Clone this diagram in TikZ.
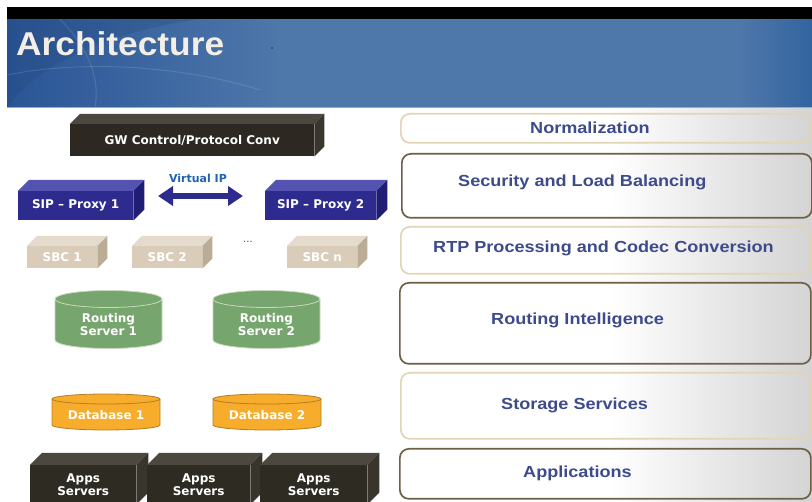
\documentclass[tikz,border=0pt]{standalone}
\usepackage{fontspec}
\setmainfont{DejaVu Sans}
\newfontfamily\lblfont{DejaVu Sans}
\newfontfamily\arialb{Liberation Sans}[FakeStretch=1.13]
\newfontfamily\titlefont{Liberation Sans}[FakeStretch=1.07]
\usetikzlibrary{arrows.meta}
\definecolor{gwF}{HTML}{2D2922}\definecolor{gwT}{HTML}{4C4840}\definecolor{gwS}{HTML}{3A362E}
\definecolor{sipF}{HTML}{2E2B8E}\definecolor{sipT}{HTML}{5553B2}\definecolor{sipS}{HTML}{201D74}
\definecolor{sbcF}{HTML}{D9CDB9}\definecolor{sbcT}{HTML}{E5DBCC}\definecolor{sbcS}{HTML}{BAAC95}
\definecolor{appF}{HTML}{2E2B23}\definecolor{appT}{HTML}{4C4840}\definecolor{appS}{HTML}{39352D}
\definecolor{rsF}{HTML}{76A56D}\definecolor{rsE}{HTML}{CBD9BE}
\definecolor{dbF}{HTML}{F7AC2B}\definecolor{dbE}{HTML}{B47E22}
\definecolor{lblblue}{HTML}{3D4B8B}
\definecolor{vipblue}{HTML}{1F63B5}
\definecolor{beigeline}{HTML}{E2D5B6}
\definecolor{dkbrown}{HTML}{6E5F47}
\definecolor{barblue}{HTML}{4E77AA}
\definecolor{bardark}{HTML}{2A5596}
\definecolor{barright}{HTML}{33649F}
\definecolor{titlecol}{HTML}{F3EEE6}
% cuboid: name, x1, y1, x2, y2, depth, colour prefix, text
\newcommand\cubx[8]{%
  \node[cubelbl, fill=#7F, minimum width={#4-#2}, minimum height={#5-#3}, anchor=north west] (#1) at (#2,#3) {#8};
  \fill[#7T] (#1.north west) -- ++(#6,-#6) -- ([shift={(#6,-#6)}]#1.north east) -- (#1.north east) -- cycle;
  \fill[#7S] (#1.north east) -- ++(#6,-#6) -- ([shift={(#6,-#6)}]#1.south east) -- (#1.south east) -- cycle;
}
% cylinder: name, x1, x2, ytop, ybot, ry(pt), colour prefix, text
\newcommand\cyl[8]{%
  \pgfmathsetmacro\cylR{(#3-#2)/2}
  \path[fill=#7F, draw=#7E, line width=0.8pt] (#2,#4) -- (#2,#5)
     arc[start angle=180, end angle=360, x radius=\cylR pt, y radius=#6pt] -- (#3,#4)
     arc[start angle=0, end angle=180, x radius=\cylR pt, y radius=#6pt] -- cycle;
  \draw[#7E, line width=0.8pt] (#2,#4) arc[start angle=180, end angle=360, x radius=\cylR pt, y radius=#6pt];
  \node[cubelbl] (#1) at ({(#2+#3)/2},{(#4+#5)/2+#6/2+1}) {#8};
}
\begin{document}
\begin{tikzpicture}[x=1pt,y=-1pt,
  cubelbl/.style={inner sep=0pt, text=white, font=\lblfont\bfseries\fontsize{12}{13.5}\selectfont, align=center},
  rbox/.style={rounded corners=9pt, line width=1.7pt, anchor=north west, inner sep=0pt},
  lightbox/.style={rbox, draw=beigeline},
  darkbox/.style={rbox, draw=dkbrown},
  rlbl/.style={anchor=base west, inner sep=0pt, text=lblblue, font=\arialb\bfseries\fontsize{16}{18}\selectfont}]
\useasboundingbox (0,0) rectangle (812,502);
\fill[white] (0,0) rectangle (812,502);
% right panel background gradient
\shade[left color=white, right color=black!17] (610,108) rectangle (812,502);
% title bar
\fill[barblue] (7,19) rectangle (812,108);
\shade[left color=bardark, right color=barblue] (7,19) rectangle (280,108);
\shade[left color=barblue, right color=barright] (740,19) rectangle (812,108);
\fill[bardark!80!black, opacity=0.25] (7,108) .. controls (40,60) and (120,30) .. (200,19) -- (7,19) -- cycle;
\draw[white, opacity=0.12, line width=1pt] (7,75) .. controls (80,60) and (180,65) .. (260,90);
\draw[white, opacity=0.12, line width=1pt] (60,19) .. controls (90,50) and (100,80) .. (95,108);
\draw[barblue!60!white, line width=1pt] (7,108) -- (812,108);
\fill[black] (7,7) rectangle (812,19);
\node[anchor=base west, inner sep=0pt, text=titlecol, font=\titlefont\bfseries\fontsize{33}{36}\selectfont] (title) at (16,56) {Architecture};
\fill[bardark!60!black] (272,48) circle[radius=0.8pt];
% left column
\cubx{gw}{70}{124}{314}{156}{10}{gw}{GW Control/Protocol Conv}
\cubx{sipa}{18}{191}{133}{220}{11}{sip}{SIP – Proxy 1}
\cubx{sipb}{265}{191}{376}{220}{11}{sip}{SIP – Proxy 2}
\node[inner sep=0pt, text=vipblue, font=\lblfont\bfseries\fontsize{11}{12}\selectfont] (vip) at (198,178) {Virtual IP};
\coordinate (va) at (158,196);
\coordinate (vb) at (243,196);
\draw[sipF, line width=6pt, {Triangle[length=15pt,width=19pt]}-{Triangle[length=15pt,width=19pt]}] (va) -- (vb);
\cubx{sbca}{27}{246}{97}{268}{10}{sbc}{SBC 1}
\cubx{sbcb}{132}{246}{202}{268}{10}{sbc}{SBC 2}
\cubx{sbcn}{287}{246}{357}{268}{10}{sbc}{SBC n}
\node[inner sep=0pt, text=lblblue, font=\lblfont\fontsize{10}{12}\selectfont] (dots) at (248,242) {...};
\cyl{rsa}{55}{162}{299}{340}{8.5}{rs}{Routing\\Server 1}
\cyl{rsb}{213}{320}{299}{340}{8.5}{rs}{Routing\\Server 2}
\cyl{dba}{52}{160}{399}{425}{5}{db}{Database 1}
\cyl{dbb}{213}{321}{399}{425}{5}{db}{Database 2}
\cubx{appa}{30}{465}{136}{504}{12}{app}{Apps\\Servers}
\cubx{appb}{147}{465}{250}{504}{12}{app}{Apps\\Servers}
\cubx{appc}{260}{465}{367}{504}{12}{app}{Apps\\Servers}
% right column
\node[lightbox, minimum width=410pt, minimum height=29pt] (normbox) at (400,113) {};
\node[darkbox, minimum width=410pt, minimum height=64pt] (secbox) at (401,153) {};
\node[lightbox, minimum width=410pt, minimum height=47pt] (rtpbox) at (400,226) {};
\node[darkbox, minimum width=411pt, minimum height=81pt] (ribox) at (399,282) {};
\node[lightbox, minimum width=410pt, minimum height=66pt] (stbox) at (400,372) {};
\node[darkbox, minimum width=411pt, minimum height=50pt] (apbox) at (399,448) {};
\node[rlbl] (norm) at (530,134) {Normalization};
\node[rlbl] (sec) at (458,187) {Security and Load Balancing};
\node[rlbl] (rtp) at (433,253) {RTP Processing and Codec Conversion};
\node[rlbl] (ri) at (491,325) {Routing Intelligence};
\node[rlbl] (st) at (501,410) {Storage Services};
\node[rlbl] (ap) at (523,478) {Applications};
\end{tikzpicture}
\end{document}
